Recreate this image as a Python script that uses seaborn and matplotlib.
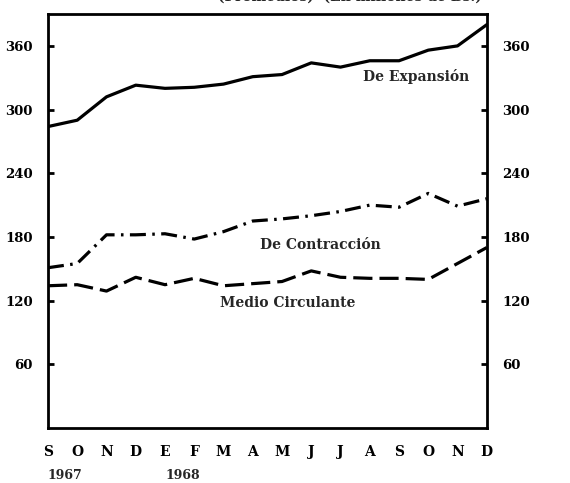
import matplotlib
matplotlib.use("Agg")
import matplotlib.pyplot as plt
import seaborn as sns
import pandas as pd

# meses (sep 1967 - dic 1968)
meses = ["S", "O", "N", "D", "E", "F", "M", "A", "M", "J", "J", "A", "S", "O", "N", "D"]
expansion = [284, 290, 312, 323, 320, 321, 324, 331, 333, 344, 340, 346, 346, 356, 360, 380]
contraccion = [151, 155, 182, 182, 183, 178, 185, 195, 197, 200, 204, 210, 208, 221, 209, 216]
circulante = [134, 135, 129, 142, 135, 141, 134, 136, 138, 148, 142, 141, 141, 140, 155, 170]
yticks = [60, 120, 180, 240, 300, 360]

sns.set_style("white")
plt.rcParams['font.family'] = ['DejaVu Serif']
plt.rcParams['font.weight'] = 'bold'

df = pd.DataFrame({
    'mes': list(range(len(meses))) * 3,
    'valor': expansion + contraccion + circulante,
    'serie': ['exp'] * 16 + ['con'] * 16 + ['med'] * 16,
})

fig = plt.figure(figsize=(5.7, 4.83), dpi=100)
ax = fig.add_axes([0.0842, 0.1139, 0.7698, 0.857])

sns.lineplot(data=df, x='mes', y='valor', style='serie', color='black',
             dashes={'exp': '', 'con': (5, 2, 0.8, 2), 'med': (6, 2.2)},
             linewidth=2.3, legend=False, ax=ax)

ax.set_xlim(0, 15)
ax.set_ylim(0, 390)
ax.set_xlabel('')
ax.set_ylabel('')
for s in ax.spines.values():
    s.set_linewidth(2)
    s.set_color('black')

ax.set_xticks(range(16))
ax.set_xticklabels(meses, fontsize=10, fontweight='bold')
ax.set_yticks(yticks)
ax.set_yticklabels([str(v) for v in yticks], fontsize=9.5, fontweight='bold')
ax.tick_params(axis='both', direction='in', length=4, width=2, colors='black')
ax.tick_params(axis='x', pad=12)
ax.tick_params(axis='y', left=True, right=True, labelleft=True, labelright=True, pad=11)

ax.text(12.6, 331, 'De Expansión', fontsize=10, fontweight='bold', ha='center', va='center')
ax.text(9.3, 172, 'De Contracción', fontsize=10, fontweight='bold', ha='center', va='center')
ax.text(8.2, 118, 'Medio Circulante', fontsize=10, fontweight='bold', ha='center', va='center')

trans = ax.get_xaxis_transform()
ax.text(0, -0.115, '1967', transform=trans, fontsize=9, fontweight='bold', ha='left', va='center')
ax.text(4, -0.115, '1968', transform=trans, fontsize=9, fontweight='bold', ha='left', va='center')

# titulo cortado en el borde superior (como en el original)
fig.text(0.614, 1.0 + 10.3 / 483, '(Promedios)  (En millones de Bs.)', fontsize=10,
         fontweight='bold', ha='center', va='top')

fig.savefig('out.png', dpi=100)
